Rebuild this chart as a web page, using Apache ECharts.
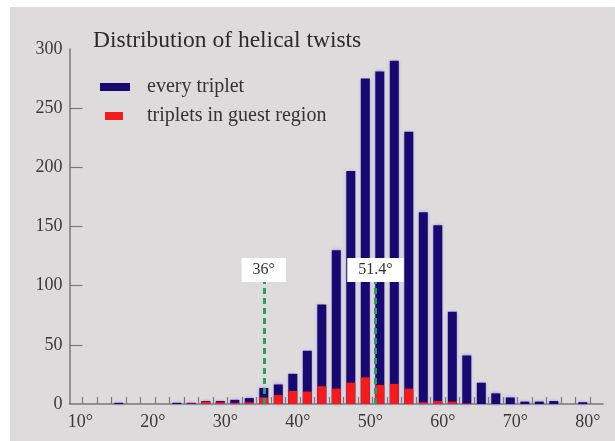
<!DOCTYPE html>
<html>
<head>
<meta charset="utf-8">
<script src="https://cdn.jsdelivr.net/npm/echarts@6/dist/echarts.min.js"></script>
<style>html,body{margin:0;padding:0;background:#fff;}#c{width:615px;height:441px;}</style>
</head>
<body>
<div id="c"></div>
<script>
const binCenters = [10,12,14,16,18,20,22,24,26,28,30,32,34,36,38,40,42,44,46,48,50,52,54,56,58,60,62,64,66,68,70,72,74,76,78,80];
const everyTriplet = [0,0,0,1,0,0,0,1,1,2.5,2.5,3.5,5,13.5,16.5,25.5,45,84,130,197,275,281,290,230,162,151,78,41,18,9,5.5,2,2,2.5,0,1.5];
const guestRegion = [0,0,0,0,0,0,0,0,0.5,2,1.5,1,1.5,5.5,7.5,11,10.5,15,13,18,22.5,16,17,13,1.5,2.5,2,0.5,0,0,0,0,0,0,0,0];
const xLabelValues = [10,20,30,40,50,60,70,80];
const xTickValues = [11,13,15,17,19,21,23,25,27,29,31,33,35,37,39,41,43,45,47,49,51,53,55,57,59,61,63,65,67,69,71,73,75,77,79,81];
const yTickValues = [50,100,150,200,250];
const markers = [{x:36, top:103, text:'36°'}, {x:51.4, top:103, text:'51.4°'}];
const titleText = 'Distribution of helical twists';
const seriesNames = ['every triplet', 'triplets in guest region'];

const serif = '"Liberation Serif", "DejaVu Serif", serif';
const chart = echarts.init(document.getElementById('c'), null, {renderer:'canvas'});
const pairs = (vals) => binCenters.map((c,i) => [c, vals[i]]);

chart.setOption({
  animation: false,
  backgroundColor: '#ffffff',
  graphic: [{
    type: 'rect', z: -10, silent: true,
    shape: {x: 10, y: 7, width: 605, height: 434},
    style: {fill: '#dddbdc'}
  }],
  title: {
    text: titleText, left: 88, top: 24,
    textStyle: {fontFamily: serif, fontSize: 23.5, fontWeight: 'normal', color: '#2b2b2b'}
  },
  legend: [{
    data: [seriesNames[0]], left: 95, top: 72, orient: 'vertical',
    itemWidth: 30, itemHeight: 8, icon: 'rect',
    textStyle: {fontFamily: serif, fontSize: 20, color: '#333', padding: [0,0,0,12]}
  },{
    data: [seriesNames[1]], left: 100, top: 101, orient: 'vertical',
    itemWidth: 18, itemHeight: 8, icon: 'rect',
    textStyle: {fontFamily: serif, fontSize: 20, color: '#333', padding: [0,0,0,19]}
  }],
  grid: {left: 69.5, top: 49, width: 533.6, height: 355},
  xAxis: {
    type: 'value', min: 9.2, max: 82.8,
    axisLine: {show: true, lineStyle: {color: '#7a7a7a', width: 1.5}},
    axisTick: {show: true, inside: true, length: 7, customValues: xTickValues, lineStyle: {color: '#7a7a7a', width: 1.2}},
    axisLabel: {customValues: xLabelValues, formatter: v => v + '°', fontFamily: serif, fontSize: 18, color: '#3a3a3a', margin: 9, padding: [0,0,0,10]},
    splitLine: {show: false}
  },
  yAxis: {
    type: 'value', min: 0, max: 300, interval: 50,
    axisLine: {show: true, lineStyle: {color: '#7a7a7a', width: 1.5}},
    axisTick: {show: true, inside: true, length: 13, customValues: yTickValues, lineStyle: {color: '#7a7a7a', width: 1.2}},
    axisLabel: {fontFamily: serif, fontSize: 18, color: '#3a3a3a', margin: 7},
    splitLine: {show: false}
  },
  series: [{
    name: seriesNames[0], type: 'bar', data: pairs(everyTriplet), barWidth: 9, barGap: '-100%',
    itemStyle: {color: '#17096f', shadowBlur: 3, shadowColor: 'rgba(140,125,235,0.9)'},
    z: 2
  },{
    name: seriesNames[1], type: 'bar', data: pairs(guestRegion), barWidth: 9, barGap: '-100%',
    itemStyle: {color: '#f21c1c'},
    z: 3,
    markLine: {
      silent: true, symbol: ['none','none'],
      lineStyle: {color: '#2f9a66', type: [6,4], width: 3},
      label: {show: true, position: 'end', distance: 0, fontFamily: serif, fontSize: 16, color: '#333',
              backgroundColor: '#ffffff', padding: [4,11,4,11]},
      data: markers.map(m => [{coord: [m.x, 0], label: {formatter: m.text}}, {coord: [m.x, m.top]}])
    }
  }]
});
</script>
</body>
</html>
